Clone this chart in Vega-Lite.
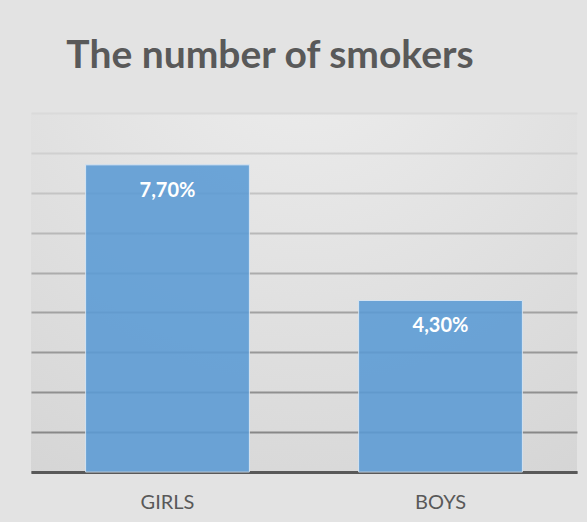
{
  "$schema": "https://vega.github.io/schema/vega-lite/v6.json",
  "autosize": {"type": "none"},
  "width": 546,
  "height": 359,
  "padding": {"left": 31, "top": 113, "right": 10, "bottom": 50},
  "background": "#e3e3e3",
  "title": {
    "text": "The number of smokers",
    "font": "Lato",
    "fontSize": 39,
    "fontWeight": "bold",
    "color": "#595959",
    "anchor": "middle",
    "baseline": "alphabetic",
    "offset": 6,
    "dx": -34
  },
  "config": {
    "view": {"stroke": null, "fill": {"gradient": "radial", "x1": 0.5, "y1": 0.0, "r1": 0, "x2": 0.5, "y2": 0.0, "r2": 1.1, "stops": [{"offset": 0, "color": "#eeeeee"}, {"offset": 1, "color": "#d2d2d2"}]}}
  },
  "data": {
    "values": [
      {"group": "GIRLS", "value": 7.7, "label": "7,70%"},
      {"group": "BOYS", "value": 4.3, "label": "4,30%"}
    ]
  },
  "encoding": {
    "x": {
      "field": "group",
      "type": "nominal",
      "sort": null,
      "scale": {"paddingInner": 0.4, "paddingOuter": 0.2},
      "axis": {
        "title": null,
        "labelAngle": 0,
        "labelFont": "Lato",
        "labelFontSize": 20,
        "labelColor": "#595959",
        "labelPadding": 20,
        "ticks": false,
        "domainColor": "#595959",
        "domainWidth": 3,
        "grid": false
      }
    },
    "y": {
      "field": "value",
      "type": "quantitative",
      "scale": {"domain": [0, 9], "nice": false},
      "axis": {
        "title": null,
        "labels": false,
        "ticks": false,
        "domain": false,
        "tickCount": 9,
        "grid": true,
        "gridWidth": 2,
        "gridColor": {
          "condition": [
            {"test": "datum.value >= 9", "value": "#dadada"},
            {"test": "datum.value >= 8", "value": "#d0d0d0"},
            {"test": "datum.value >= 7", "value": "#c4c4c4"},
            {"test": "datum.value >= 6", "value": "#b8b8b8"},
            {"test": "datum.value >= 5", "value": "#acacac"},
            {"test": "datum.value >= 4", "value": "#a2a2a2"},
            {"test": "datum.value >= 3", "value": "#989898"},
            {"test": "datum.value >= 2", "value": "#909090"}
          ],
          "value": "#888888"
        }
      }
    }
  },
  "layer": [
    {
      "mark": {"type": "bar", "color": "#5b9bd5", "opacity": 0.88, "stroke": "#d6e6f5", "strokeWidth": 1}
    },
    {
      "mark": {"type": "text", "color": "white", "font": "Lato", "fontSize": 20, "fontWeight": "bold", "baseline": "middle", "dy": 26},
      "encoding": {"text": {"field": "label"}}
    }
  ]
}
